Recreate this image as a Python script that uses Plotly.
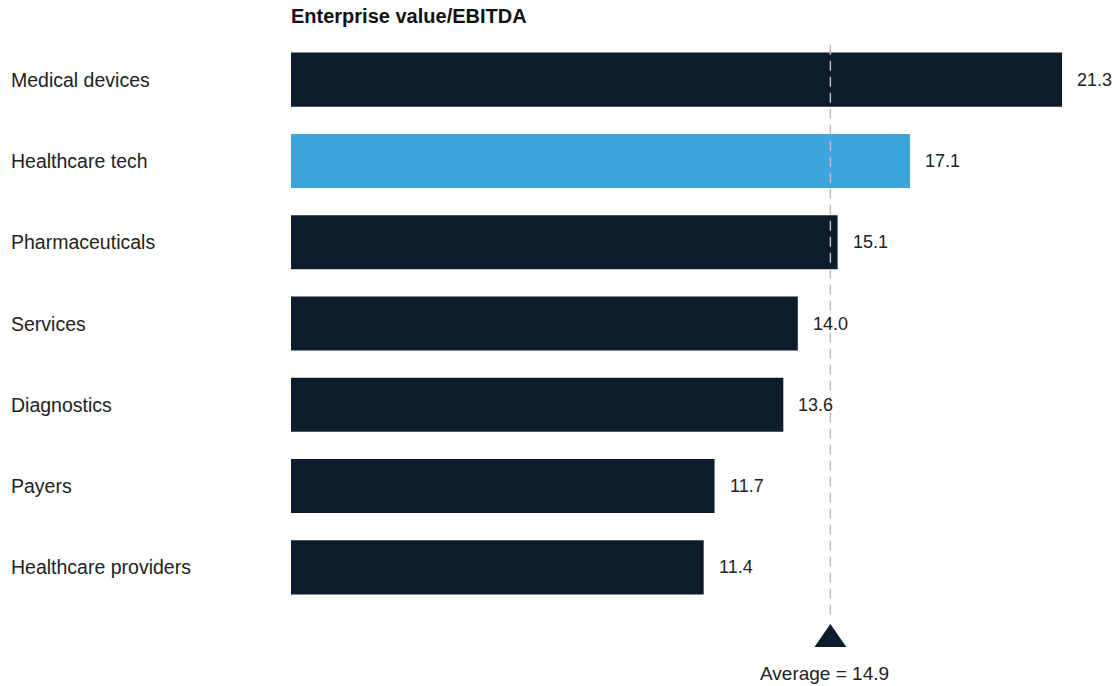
import plotly.graph_objects as go

categories = ["Medical devices", "Healthcare tech", "Pharmaceuticals", "Services",
              "Diagnostics", "Payers", "Healthcare providers"]
values = [21.3, 17.1, 15.1, 14.0, 13.6, 11.7, 11.4]
highlight = "Healthcare tech"
average = 14.9
title_text = "Enterprise value/EBITDA"
average_label = "Average = 14.9"

NAVY = "#0c1c2c"
BLUE = "#3ca5dc"
TEXT = "#222222"
FONT = "Liberation Sans, Arial, sans-serif"

colors = [BLUE if c == highlight else NAVY for c in categories]

fig = go.Figure()
fig.add_trace(go.Bar(
    x=values, y=categories, orientation="h",
    marker=dict(color=colors, line=dict(width=0)),
    width=0.665, hoverinfo="skip",
))

annotations = []
for c, v in zip(categories, values):
    annotations.append(dict(x=0, xref="paper", xshift=-282, y=c, yref="y", text=c,
                            showarrow=False, xanchor="left", yanchor="middle",
                            font=dict(size=19.5, color=TEXT, family=FONT)))
    annotations.append(dict(x=v, xref="x", y=c, yref="y", text=f"{v:.1f}",
                            showarrow=False, xanchor="left", yanchor="middle", xshift=13,
                            font=dict(size=18, color=TEXT, family=FONT)))

annotations.append(dict(x=0, xref="paper", y=1.0405, yref="paper", text=f"<b>{title_text}</b>",
                        showarrow=False, xanchor="left", yanchor="middle", xshift=-2,
                        font=dict(size=20, color="#111111", family=FONT)))
annotations.append(dict(x=average, xref="x", y=-0.1144, yref="paper", text=average_label,
                        showarrow=False, xanchor="center", yanchor="middle", xshift=-6,
                        font=dict(size=19, color=TEXT, family=FONT)))

half_w = 0.44
shapes = [
    dict(type="line", xref="x", yref="paper", x0=average, x1=average, y0=-0.012, y1=1.0,
         line=dict(color="#bbbbbb", width=1.5, dash="10px,6px"), layer="above"),
    dict(type="path", xref="x", yref="paper",
         path=f"M {average - half_w} -0.0687 L {average + half_w} -0.0687 L {average} -0.028 Z",
         fillcolor=NAVY, line=dict(width=0)),
]

fig.update_layout(
    width=1118, height=686,
    margin=dict(l=291, r=0, t=39, b=78),
    paper_bgcolor="white", plot_bgcolor="white",
    showlegend=False,
    xaxis=dict(range=[0, 827 / 36.2], visible=False, fixedrange=True),
    yaxis=dict(categoryorder="array", categoryarray=categories, range=[6.5, -0.5],
               showticklabels=False, showgrid=False, zeroline=False, fixedrange=True),
    annotations=annotations, shapes=shapes,
    bargap=0.3,
)

fig.write_html("out.html")
